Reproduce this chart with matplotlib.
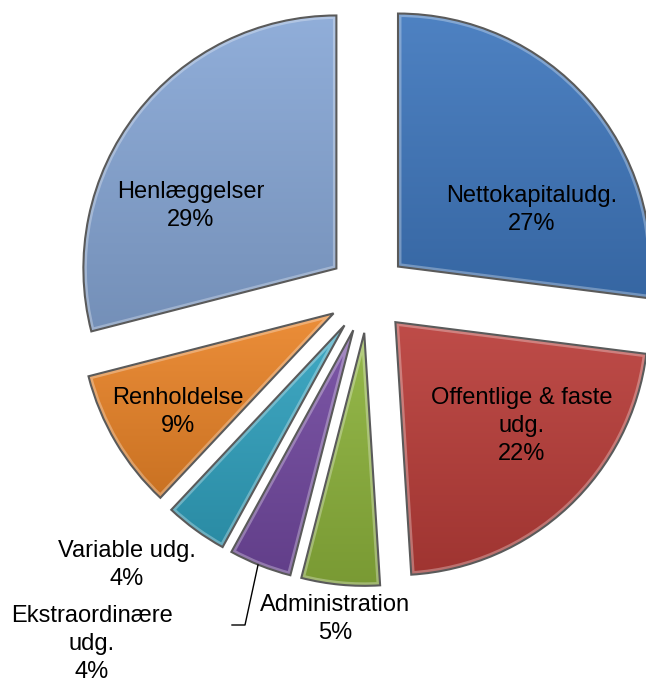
import numpy as np
import matplotlib.pyplot as plt
from matplotlib.colors import to_rgb
from matplotlib.patches import Wedge

labels = ['Nettokapitaludg.', 'Offentlige & faste\nudg.', 'Administration',
          'Ekstraordinære\nudg.', 'Variable udg.', 'Renholdelse', 'Henlæggelser']
shares = [27, 22, 5, 4, 4, 9, 29]
colors = ['#3F77BD', '#B93D39', '#8DB33C', '#7249A0', '#31A2BF', '#EA8428', '#87A7D6']

# label centres in pixels from the top-left corner
label_pos = [(532, 210), (522, 426), (335, 619), (92, 644), (127, 565), (178, 412), (191, 206)]

W, H = 646, 682
fig = plt.figure(figsize=(W / 100, H / 100), dpi=100)
ax = fig.add_axes([0, 0, 1, 1])

cx, cy = 368, H - 293
wedges, _ = ax.pie(shares, colors=colors, startangle=90, counterclock=False,
                   radius=253, center=(cx, cy), explode=[40] * len(shares),
                   wedgeprops=dict(edgecolor='#5a5a5a', linewidth=1.5))

# Excel-like vertical gradient and soft bevel in each slice
for w, c in zip(wedges, colors):
    rgb = np.array(to_rgb(c))
    light = rgb + (1 - rgb) * 0.08
    dark = rgb * 0.86
    t = np.linspace(0, 1, 128)[:, None]
    grad = (light[None, :] * (1 - t) + dark[None, :] * t)[:, None, :]
    v = w.get_path().vertices
    x0, x1 = v[:, 0].min(), v[:, 0].max()
    y0, y1 = v[:, 1].min(), v[:, 1].max()
    im = ax.imshow(grad, extent=(x0, x1, y0, y1), origin='upper', aspect='auto',
                   zorder=2, interpolation='bilinear')
    im.set_clip_path(w)
    bevel = Wedge(w.center, w.r, w.theta1, w.theta2, fill=False,
                  edgecolor='white', alpha=0.3, linewidth=5, zorder=2.5)
    ax.add_patch(bevel)
    bevel.set_clip_path(w)
    w.set_facecolor('none')
    w.set_zorder(3)

for lab, s, (px, py) in zip(labels, shares, label_pos):
    ax.text(px, H - py, f'{lab}\n{s}%', ha='center', va='center', fontsize=17,
            family='Liberation Sans', linespacing=1.35, zorder=5)

# leader line for the small purple slice
ax.plot([258, 245, 232], [H - 565, H - 625, H - 625], color='black', lw=1, zorder=5)

ax.set_xlim(0, W)
ax.set_ylim(0, H)
ax.set_aspect('auto')
ax.axis('off')

plt.savefig('out.png', dpi=100)
plt.close()
